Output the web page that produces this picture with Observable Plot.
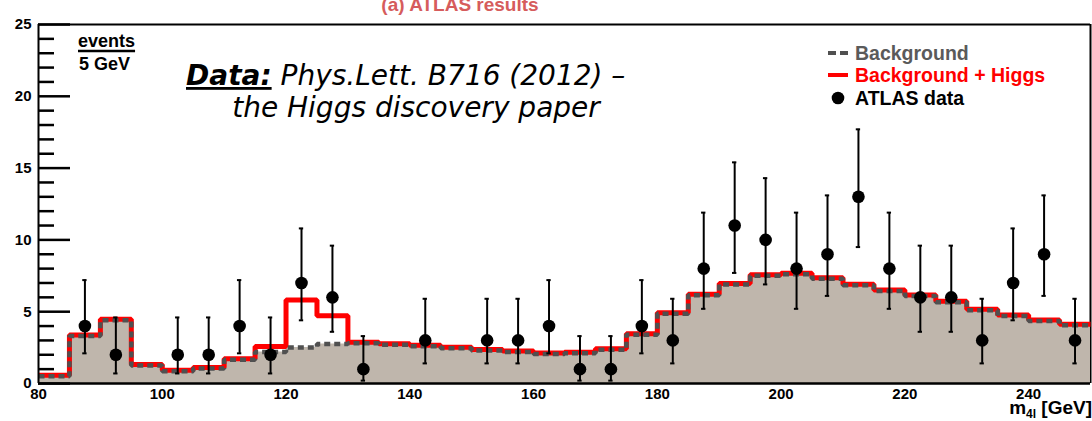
<!DOCTYPE html>
<html>
<head>
<meta charset="utf-8">
<script src="https://cdn.jsdelivr.net/npm/d3@7"></script>
<script src="https://cdn.jsdelivr.net/npm/@observablehq/plot@0.6"></script>
<style>
  html, body { margin: 0; padding: 0; background: #fff; }
  #chart svg { display: block; overflow: hidden; }
</style>
</head>
<body>
<div id="chart"></div>
<script>
// Four-lepton invariant mass, 5 GeV bins from 80 to 250 GeV
const binWidth = 5;
const binLow = [80, 85, 90, 95, 100, 105, 110, 115, 120, 125, 130, 135, 140, 145, 150, 155, 160,
                165, 170, 175, 180, 185, 190, 195, 200, 205, 210, 215, 220, 225, 230, 235, 240, 245];
// Expected background per bin
const background = [0.5, 3.3, 4.4, 1.25, 0.85, 1.05, 1.65, 2.2, 2.5, 2.75, 2.8, 2.7, 2.6, 2.45, 2.3, 2.2, 2.05,
                    2.1, 2.35, 3.4, 4.85, 6.15, 6.9, 7.5, 7.6, 7.3, 6.85, 6.45, 6.1, 5.65, 5.1, 4.7, 4.35, 4.05];
// Expected Higgs signal (m_H = 125 GeV) per bin
const higgsSignal = [0, 0, 0, 0, 0, 0, 0, 0.3, 3.25, 1.9, 0, 0, 0, 0, 0, 0, 0,
                     0, 0, 0, 0, 0, 0, 0, 0, 0, 0, 0, 0, 0, 0, 0, 0, 0];

// Observed events (bin centres, counts and asymmetric error bars)
const dataMass   = [87.5, 92.5, 102.5, 107.5, 112.5, 117.5, 122.5, 127.5, 132.5, 142.5, 152.5, 157.5, 162.5, 167.5, 172.5,
                    177.5, 182.5, 187.5, 192.5, 197.5, 202.5, 207.5, 212.5, 217.5, 222.5, 227.5, 232.5, 237.5, 242.5, 247.5];
const dataCounts = [4, 2, 2, 2, 4, 2, 7, 6, 1, 3, 3, 3, 4, 1, 1,
                    4, 3, 8, 11, 10, 8, 9, 13, 8, 6, 6, 3, 7, 9, 3];
const dataErrLow  = [2.1, 0.7, 0.7, 0.7, 2.1, 0.7, 4.4, 3.6, 0.2, 1.4, 1.4, 1.4, 2.1, 0.2, 0.2,
                     2.1, 1.4, 5.2, 7.7, 6.9, 5.2, 6.1, 9.5, 5.2, 3.6, 3.6, 1.4, 4.4, 6.1, 1.4];
const dataErrHigh = [7.2, 4.6, 4.6, 4.6, 7.2, 4.6, 10.8, 9.6, 3.3, 5.9, 5.9, 5.9, 7.2, 3.3, 3.3,
                     7.2, 5.9, 11.9, 15.4, 14.3, 11.9, 13.1, 17.7, 11.9, 9.6, 9.6, 5.9, 10.8, 13.1, 5.9];

// Axis ticks
const xTicks = [80, 100, 120, 140, 160, 180, 200, 220, 240];
const yMajorTicks = [0, 5, 10, 15, 20, 25];
const yMinorTicks = [1, 2, 3, 4, 6, 7, 8, 9, 11, 12, 13, 14, 16, 17, 18, 19, 21, 22, 23, 24];

// Step outlines: one vertex per lower bin edge, plus the closing upper edge
const lastEdge = binLow[binLow.length - 1] + binWidth;
const bgSteps = binLow.map((x, i) => ({x, y: background[i]}))
  .concat([{x: lastEdge, y: background[background.length - 1]}]);
const totalSteps = binLow.map((x, i) => ({x, y: background[i] + higgsSignal[i]}))
  .concat([{x: lastEdge, y: background[background.length - 1] + higgsSignal[higgsSignal.length - 1]}]);

const points = dataMass.map((m, i) => ({m, n: dataCounts[i], lo: dataErrLow[i], hi: dataErrHigh[i]}));
const capHalf = 0.35;

const W = 1092, H = 421;
const font = "'Liberation Sans', Arial, Helvetica, sans-serif";

const plot = Plot.plot({
  width: W,
  height: H,
  marginLeft: 38,
  marginRight: 2,
  marginTop: 24,
  marginBottom: 38,
  style: {fontFamily: font, fontWeight: "bold", fontSize: "15px", color: "#000", background: "#fff"},
  x: {domain: [80, 250]},
  y: {domain: [0, 25]},
  marks: [
    // top and right frame edges sit beneath the histogram fill
    Plot.ruleY([25], {stroke: "#000", strokeWidth: 2}),
    Plot.ruleX([250], {stroke: "#000", strokeWidth: 2}),
    Plot.areaY(bgSteps, {x: "x", y: "y", curve: "step-after", fill: "#bfb6ac"}),
    Plot.lineY(totalSteps, {x: "x", y: "y", curve: "step-after", stroke: "#ff0000", strokeWidth: 5, dy: -1,
                            strokeLinejoin: "miter", strokeLinecap: "butt"}),
    Plot.lineY(bgSteps, {x: "x", y: "y", curve: "step-after", stroke: "#505050", strokeWidth: 4.5,
                         strokeDasharray: "6,4", strokeLinejoin: "miter", strokeLinecap: "butt"}),
    Plot.ruleX([80], {stroke: "#000", strokeWidth: 2}),
    Plot.ruleY([0], {stroke: "#000", strokeWidth: 2.5}),
    // inward ticks on the y axis
    Plot.axisY({ticks: yMinorTicks, tickSize: -16, text: null, strokeWidth: 2.5}),
    Plot.axisY({ticks: yMajorTicks, tickSize: -32, text: null, strokeWidth: 2.5}),
    Plot.axisY({ticks: yMajorTicks, tickSize: 0, tickPadding: 7, label: null, fontSize: 15, fontWeight: "bold"}),
    Plot.axisX({ticks: xTicks, tickSize: 0, tickPadding: 5, label: null, fontSize: 15, fontWeight: "bold"}),
    // data with error bars
    Plot.ruleX(points, {x: "m", y1: "lo", y2: "hi", stroke: "#000", strokeWidth: 2}),
    Plot.ruleY(points, {y: "hi", x1: d => d.m - capHalf, x2: d => d.m + capHalf, stroke: "#000", strokeWidth: 2}),
    Plot.ruleY(points, {y: "lo", x1: d => d.m - capHalf, x2: d => d.m + capHalf, stroke: "#000", strokeWidth: 2}),
    Plot.dot(points, {x: "m", y: "n", r: 6.3, fill: "#000", stroke: "none"})
  ]
});

document.getElementById("chart").appendChild(plot);

// Annotations: panel title, axis titles, note and legend
const svg = d3.select(plot);
const g = svg.append("g").attr("font-family", font).attr("font-weight", "bold").attr("text-anchor", "start");

g.append("text").attr("x", 460).attr("y", 11).attr("text-anchor", "middle")
  .attr("font-size", 19).attr("fill", "#d65c5c").text("(a) ATLAS results");

// y axis title as a fraction
const ev = g.append("text").attr("x", 78).attr("y", 47).attr("font-size", 18).attr("fill", "#000").text("events");
const evBox = ev.node().getBBox();
g.append("line").attr("x1", evBox.x).attr("x2", evBox.x + evBox.width).attr("y1", 51).attr("y2", 51)
  .attr("stroke", "#000").attr("stroke-width", 2.5);
g.append("text").attr("x", 79).attr("y", 70).attr("font-size", 18).attr("fill", "#000").text("5 GeV");

// x axis title with subscript
const xt = g.append("text").attr("x", 1092).attr("y", 414).attr("text-anchor", "end")
  .attr("font-size", 19).attr("fill", "#000");
xt.append("tspan").text("m");
xt.append("tspan").attr("font-size", 12).attr("dy", 4).text("4l");
xt.append("tspan").attr("dy", -4).text(" [GeV]");

// note about the data source
const note = svg.append("g").attr("font-family", "'DejaVu Sans', sans-serif").attr("font-size", 28)
  .attr("fill", "#000").attr("text-anchor", "start").attr("font-weight", "normal");
const l1 = note.append("text").attr("x", 186).attr("y", 85);
l1.append("tspan").attr("font-weight", "bold").attr("font-style", "italic")
  .style("text-decoration", "underline").text("Data:");
l1.append("tspan").attr("font-style", "italic").text(" Phys.Lett. B716 (2012) \u2013");
note.append("text").attr("x", 416).attr("y", 117).attr("text-anchor", "middle").attr("font-style", "italic")
  .text("the Higgs discovery paper");

// legend
const lg = g.append("g").attr("font-size", 19.5);
lg.append("line").attr("x1", 828).attr("x2", 848).attr("y1", 53).attr("y2", 53)
  .attr("stroke", "#505050").attr("stroke-width", 4).attr("stroke-dasharray", "8,4");
lg.append("text").attr("x", 855).attr("y", 60).attr("fill", "#5a5a5a").text("Background");
lg.append("line").attr("x1", 828).attr("x2", 848).attr("y1", 75).attr("y2", 75)
  .attr("stroke", "#ff0000").attr("stroke-width", 4);
lg.append("text").attr("x", 855).attr("y", 82).attr("fill", "#ff0000").text("Background + Higgs");
lg.append("circle").attr("cx", 838).attr("cy", 98).attr("r", 6.3).attr("fill", "#000");
lg.append("text").attr("x", 855).attr("y", 105).attr("fill", "#000").text("ATLAS data");
</script>
</body>
</html>
